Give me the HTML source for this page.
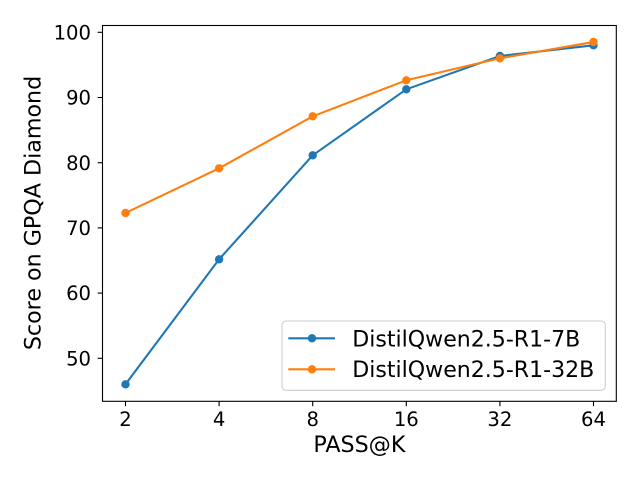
<!DOCTYPE html>
<html>
<head>
<meta charset="utf-8">
<style>
html,body{margin:0;padding:0;background:#fff;}
svg{display:block;}
text{font-family:"DejaVu Sans","Liberation Sans",sans-serif;fill:#000;}
</style>
</head>
<body>
<svg width="640" height="480" viewBox="0 0 640 480" xmlns="http://www.w3.org/2000/svg">
<rect x="0" y="0" width="640" height="480" fill="#fff"/>

<!-- series: blue -->
<polyline fill="none" stroke="#1f77b4" stroke-width="2.08" stroke-linejoin="round" stroke-linecap="square"
 points="125.5,384.3 219.1,259.3 312.7,155.3 406.3,89.3 499.9,56 593.5,45.3"/>
<g fill="#1f77b4">
<circle cx="125.5" cy="384.3" r="4.2"/>
<circle cx="219.1" cy="259.3" r="4.2"/>
<circle cx="312.7" cy="155.3" r="4.2"/>
<circle cx="406.3" cy="89.3" r="4.2"/>
<circle cx="499.9" cy="56" r="4.2"/>
<circle cx="593.5" cy="45.3" r="4.2"/>
</g>
<!-- series: orange -->
<polyline fill="none" stroke="#ff7f0e" stroke-width="2.08" stroke-linejoin="round" stroke-linecap="square"
 points="125.5,213 219.1,168.3 312.7,116.3 406.3,80.3 499.9,58.3 593.5,42"/>
<g fill="#ff7f0e">
<circle cx="125.5" cy="213" r="4.2"/>
<circle cx="219.1" cy="168.3" r="4.2"/>
<circle cx="312.7" cy="116.3" r="4.2"/>
<circle cx="406.3" cy="80.3" r="4.2"/>
<circle cx="499.9" cy="58.3" r="4.2"/>
<circle cx="593.5" cy="42" r="4.2"/>
</g>

<!-- axes frame -->
<rect x="102.5" y="25.5" width="513.8" height="375.8" fill="none" stroke="#000" stroke-width="1.1"/>

<!-- y ticks -->
<g stroke="#000" stroke-width="1.1">
<line x1="97.6" y1="32.3" x2="102.5" y2="32.3"/>
<line x1="97.6" y1="97.5" x2="102.5" y2="97.5"/>
<line x1="97.6" y1="162.7" x2="102.5" y2="162.7"/>
<line x1="97.6" y1="227.9" x2="102.5" y2="227.9"/>
<line x1="97.6" y1="293.1" x2="102.5" y2="293.1"/>
<line x1="97.6" y1="358.3" x2="102.5" y2="358.3"/>
</g>
<g font-size="19.6" text-anchor="end">
<text x="91" y="39.4">100</text>
<text x="91" y="104.6">90</text>
<text x="91" y="169.8">80</text>
<text x="91" y="235">70</text>
<text x="91" y="300.2">60</text>
<text x="91" y="365.4">50</text>
</g>

<!-- x ticks -->
<g stroke="#000" stroke-width="1.1">
<line x1="125.5" y1="401.3" x2="125.5" y2="406.2"/>
<line x1="219.1" y1="401.3" x2="219.1" y2="406.2"/>
<line x1="312.7" y1="401.3" x2="312.7" y2="406.2"/>
<line x1="406.3" y1="401.3" x2="406.3" y2="406.2"/>
<line x1="499.9" y1="401.3" x2="499.9" y2="406.2"/>
<line x1="593.5" y1="401.3" x2="593.5" y2="406.2"/>
</g>
<g font-size="19.6" text-anchor="middle">
<text x="125.5" y="426">2</text>
<text x="219.1" y="426">4</text>
<text x="312.7" y="426">8</text>
<text x="406.3" y="426">16</text>
<text x="499.9" y="426">32</text>
<text x="593.5" y="426">64</text>
</g>

<!-- axis labels -->
<text x="359.4" y="452" font-size="22.2" text-anchor="middle">PASS@K</text>
<text transform="translate(40.5,213) rotate(-90)" font-size="22.2" text-anchor="middle">Score on GPQA Diamond</text>

<!-- legend -->
<rect x="282" y="321" width="323.3" height="69.3" rx="4" ry="4" fill="#fff" fill-opacity="0.8" stroke="#cccccc" stroke-width="1.1"/>
<line x1="288.3" y1="338.3" x2="335" y2="338.3" stroke="#1f77b4" stroke-width="2.08"/>
<circle cx="312" cy="338.3" r="4.2" fill="#1f77b4"/>
<line x1="288.3" y1="369.3" x2="335" y2="369.3" stroke="#ff7f0e" stroke-width="2.08"/>
<circle cx="312" cy="369.3" r="4.2" fill="#ff7f0e"/>
<text x="352.3" y="346.3" font-size="22.2" textLength="228" lengthAdjust="spacingAndGlyphs">DistilQwen2.5-R1-7B</text>
<text x="352.3" y="377.2" font-size="22.2" textLength="242" lengthAdjust="spacingAndGlyphs">DistilQwen2.5-R1-32B</text>
</svg>
</body>
</html>
